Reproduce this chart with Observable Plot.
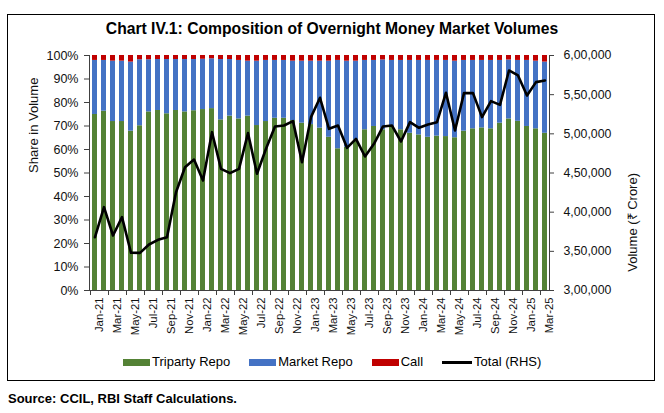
<!DOCTYPE html>
<html>
<head>
<meta charset="utf-8">
<script src="https://cdn.jsdelivr.net/npm/d3@7"></script>
<script src="https://cdn.jsdelivr.net/npm/@observablehq/plot@0.6"></script>
<style>
  html, body { margin: 0; padding: 0; background: #fff; }
  #wrap { position: relative; width: 664px; height: 413px; background: #fff; font-family: "Liberation Sans", Arial, sans-serif; color: #000; }
  #box { position: absolute; left: 7px; top: 14px; width: 648px; height: 367px; border: 1px solid #000; box-sizing: border-box; }
  #title { position: absolute; top: 19px; left: 0; width: 664px; text-align: center; font-weight: bold; font-size: 15.7px; line-height: 20px; }
  #chart { position: absolute; top: 40px; left: 0; }
  #legend { position: absolute; top: 354px; left: 123px; height: 16px; display: flex; align-items: center; font-size: 13px; line-height: 16px; white-space: nowrap; }
  .item { display: flex; align-items: center; margin-right: 19px; }
  .sw { width: 27px; height: 7px; margin-right: 2px; }
  .ln { width: 30px; height: 3px; background: #000; margin-right: 2px; }
  #source { position: absolute; top: 391px; left: 8px; font-weight: bold; font-size: 13px; line-height: 16px; }
</style>
</head>
<body>
<div id="wrap">
  <div id="box"></div>
  <div id="title">Chart IV.1: Composition of Overnight Money Market Volumes</div>
  <div id="chart"></div>
  <div id="legend"></div>
  <div id="source">Source: CCIL, RBI Staff Calculations.</div>
</div>
<script>
const months = ["Jan-21","Feb-21","Mar-21","Apr-21","May-21","Jun-21","Jul-21","Aug-21","Sep-21","Oct-21","Nov-21","Dec-21",
  "Jan-22","Feb-22","Mar-22","Apr-22","May-22","Jun-22","Jul-22","Aug-22","Sep-22","Oct-22","Nov-22","Dec-22",
  "Jan-23","Feb-23","Mar-23","Apr-23","May-23","Jun-23","Jul-23","Aug-23","Sep-23","Oct-23","Nov-23","Dec-23",
  "Jan-24","Feb-24","Mar-24","Apr-24","May-24","Jun-24","Jul-24","Aug-24","Sep-24","Oct-24","Nov-24","Dec-24",
  "Jan-25","Feb-25","Mar-25"];

const labelMonths = ["Jan-21","Mar-21","May-21","Jul-21","Sep-21","Nov-21","Jan-22","Mar-22","May-22","Jul-22","Sep-22","Nov-22",
  "Jan-23","Mar-23","May-23","Jul-23","Sep-23","Nov-23","Jan-24","Mar-24","May-24","Jul-24","Sep-24","Nov-24","Jan-25","Mar-25"];

const seriesNames = ["Triparty Repo", "Market Repo", "Call"];
const seriesColors = ["#548235", "#4472C4", "#C00000"];

const tripartyRepo = [74.9,76.3,71.9,71.9,67.8,70.1,76.0,76.6,75.2,76.6,
  76.0,76.5,77.0,77.4,72.6,74.2,73.0,74.2,70.2,71.9,
  73.3,73.3,72.3,71.2,70.6,69.1,65.2,60.3,61.0,64.1,
  68.4,69.8,68.4,69.8,68.4,66.9,66.2,65.2,65.7,65.5,
  65.0,67.8,68.8,69.2,68.8,71.2,73.0,72.0,69.8,68.8,66.9];

const marketRepo = [23.0,21.6,25.7,25.7,29.4,28.1,22.2,21.7,23.1,21.7,
  22.3,21.8,21.4,21.2,25.7,24.1,24.9,23.4,27.4,26.0,
  24.6,24.6,25.3,26.4,27.0,28.5,32.4,37.6,36.6,33.5,
  29.5,28.1,29.7,28.1,29.5,31.0,31.7,32.7,32.2,32.4,
  32.6,30.1,29.1,28.7,29.1,26.7,25.1,25.9,28.1,28.8,30.3];

const call = [2.1,2.1,2.4,2.4,2.8,1.8,1.8,1.7,1.7,1.7,
  1.7,1.7,1.6,1.4,1.7,1.7,2.1,2.4,2.4,2.1,
  2.1,2.1,2.4,2.4,2.4,2.4,2.4,2.1,2.4,2.4,
  2.1,2.1,1.9,2.1,2.1,2.1,2.1,2.1,2.1,2.1,
  2.4,2.1,2.1,2.1,2.1,2.1,1.9,2.1,2.1,2.4,2.8];

const totalRHS = [368000,406400,370200,393600,348100,348000,358700,364700,368000,425500,
  457400,467200,440400,502100,455300,449800,455300,500900,449000,480900,
  509400,510600,516200,463800,521300,546000,506400,510600,482100,493600,
  471100,487300,509400,510600,490200,514900,507700,511900,514900,552500,
  504300,552000,552000,521300,541700,537000,580900,574500,548900,566000,568100];

const leftTicks = [0,10,20,30,40,50,60,70,80,90,100];
const rightTicks = [300000,350000,400000,450000,500000,550000,600000];
const rightMin = 300000, rightMax = 600000;

const toPct = v => (v - rightMin) / (rightMax - rightMin) * 100;
const fromPct = p => Math.round(rightMin + p / 100 * (rightMax - rightMin));
function fmtIN(v) {
  const s = String(Math.round(v));
  if (s.length <= 3) return s;
  const last3 = s.slice(-3), rest = s.slice(0, -3);
  return rest.replace(/\B(?=(\d{2})+(?!\d))/g, ",") + "," + last3;
}

const seriesValues = [tripartyRepo, marketRepo, call];
const stacked = [];
seriesNames.forEach((name, si) => {
  months.forEach((m, i) => stacked.push({month: m, series: name, value: seriesValues[si][i]}));
});
const lineData = months.map((m, i) => ({month: m, total: totalRHS[i]}));

const axisColor = "#404040";
const font = '"Liberation Sans", Arial, sans-serif';

const chart = Plot.plot({
  width: 664,
  height: 300,
  marginTop: 15,
  marginBottom: 50,
  marginLeft: 89,
  marginRight: 115,
  style: {fontFamily: font, fontSize: "12px", color: "#111", background: "transparent", overflow: "visible"},
  x: {type: "band", domain: months, paddingInner: 0.45, paddingOuter: 0.225, axis: null},
  y: {domain: [0, 100], axis: null},
  color: {domain: seriesNames, range: seriesColors},
  marks: [
    Plot.barY(stacked, {x: "month", y: "value", fill: "series"}),
    Plot.lineY(lineData, {x: "month", y: d => toPct(d.total), stroke: "#000", strokeWidth: 2.6, strokeLinejoin: "round"}),
    Plot.ruleY([0], {stroke: axisColor}),
    Plot.frame({anchor: "left", stroke: axisColor}),
    Plot.frame({anchor: "right", stroke: axisColor}),
    Plot.axisY(leftTicks, {anchor: "left", tickSize: 5, tickPadding: 6, tickFormat: d => d + "%", stroke: axisColor, fontSize: 12.5, label: null}),
    Plot.axisY(rightTicks.map(toPct), {anchor: "right", tickSize: 4, tickPadding: 10, tickFormat: d => fmtIN(fromPct(d)), stroke: axisColor, fontSize: 12.3, label: null}),
    Plot.axisX(labelMonths, {anchor: "bottom", tickSize: 5, tickFormat: () => "", stroke: axisColor, dx: -4.5, label: null}),
    Plot.axisX(labelMonths, {anchor: "bottom", tickSize: 0, tickPadding: 7, tickRotate: -90, fontSize: 11.3, dx: 4.5, label: null}),
    Plot.text(["Share in Volume"], {frameAnchor: "left", rotate: -90, dx: -56, fontSize: 13, fill: "#111"}),
    Plot.text(["Volume (₹ Crore)"], {frameAnchor: "right", rotate: -90, dx: 83, fontSize: 13, fill: "#111"})
  ]
});
document.getElementById("chart").appendChild(chart);

const legend = document.getElementById("legend");
seriesNames.forEach((name, i) => {
  const it = document.createElement("div");
  it.className = "item";
  it.innerHTML = `<span class="sw" style="background:${seriesColors[i]}"></span><span>${name}</span>`;
  legend.appendChild(it);
});
const lt = document.createElement("div");
lt.className = "item";
lt.innerHTML = `<span class="ln"></span><span>Total (RHS)</span>`;
legend.appendChild(lt);
</script>
</body>
</html>
